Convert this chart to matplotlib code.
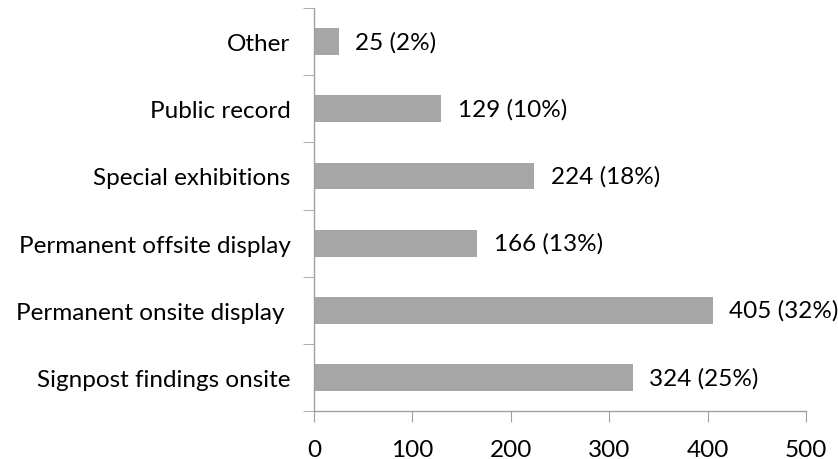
import matplotlib.pyplot as plt
import numpy as np

categories = ["Signpost findings onsite", "Permanent onsite display ",
              "Permanent offsite display", "Special exhibitions",
              "Public record", "Other"]
counts = [324, 405, 166, 224, 129, 25]
percents = [25, 32, 13, 18, 10, 2]
x_ticks = [0, 100, 200, 300, 400, 500]

plt.rcParams['font.family'] = ['Lato', 'DejaVu Sans']
plt.rcParams['font.size'] = 17.5

fig = plt.figure(figsize=(8.38, 4.6), dpi=100)
ax = fig.add_axes([0.3747, 0.1043, 0.5871, 0.876])

y = np.arange(len(categories))
bars = ax.barh(y, counts, height=0.4, color='#A6A6A6')
labels = [f"{c} ({p}%)" for c, p in zip(counts, percents)]
ax.bar_label(bars, labels=labels, padding=12)

ax.set_xlim(0, 500)
ax.set_ylim(-0.5, len(categories) - 0.5)
ax.set_xticks(x_ticks)
ax.set_yticks(y)
ax.set_yticklabels(categories)
ax.set_yticks(np.arange(len(categories) + 1) - 0.5, minor=True)

spine_col = '#A0A0A0'
for side in ['top', 'right']:
    ax.spines[side].set_visible(False)
for side in ['left', 'bottom']:
    ax.spines[side].set_color(spine_col)
    ax.spines[side].set_linewidth(1)

ax.tick_params(axis='y', which='major', length=0, pad=17)
ax.tick_params(axis='y', which='minor', length=8, color=spine_col, direction='out')
ax.tick_params(axis='x', length=8, color=spine_col, pad=12)

fig.savefig('out.png', dpi=100)
